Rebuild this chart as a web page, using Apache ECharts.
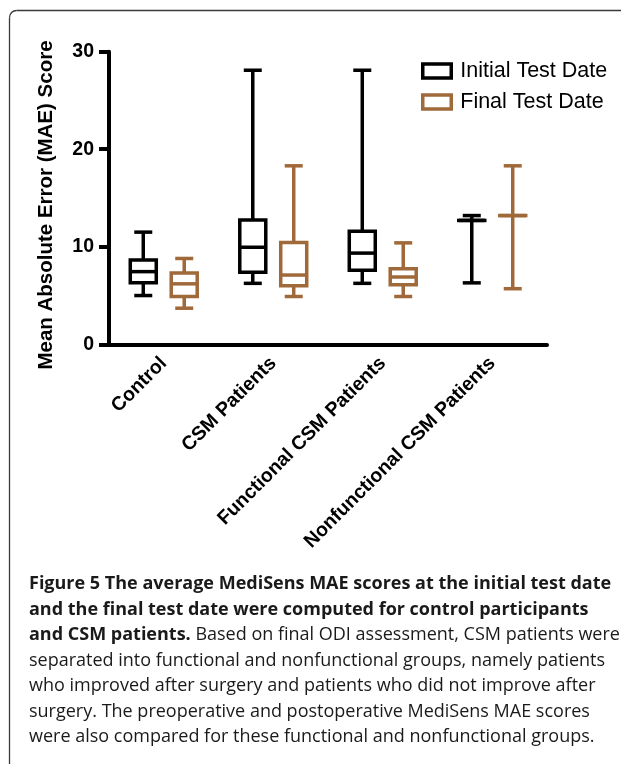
<!DOCTYPE html>
<html>
<head>
<meta charset="utf-8">
<script src="https://cdn.jsdelivr.net/npm/echarts@6/dist/echarts.min.js"></script>
<style>
html,body{margin:0;padding:0;background:#fff;}
#chart{width:621px;height:764px;}
</style>
</head>
<body>
<div id="chart"></div>
<script>
// ---- data ----
const categories = ['Control', 'CSM Patients', 'Functional CSM Patients', 'Nonfunctional CSM Patients'];
const seriesNames = ['Initial Test Date', 'Final Test Date'];
// [min, Q1, median, Q3, max]
const initialBoxes = [
  [5.0, 6.3, 7.45, 8.65, 11.5],
  [6.25, 7.4, 9.95, 12.75, 28.1],
  [6.25, 7.6, 9.35, 11.6, 28.1],
  [6.3, 12.7, 12.7, 12.7, 13.2]
];
const finalBoxes = [
  [3.7, 4.9, 6.2, 7.3, 8.8],
  [4.9, 6.0, 7.1, 10.45, 18.3],
  [4.9, 6.1, 6.9, 7.75, 10.4],
  [5.7, 13.2, 13.2, 13.2, 18.3]
];
const yTicks = [0, 10, 20, 30];
const captionLines = [
  '{b|Figure 5 The average MediSens MAE scores at the initial test date}',
  '{b|and the final test date were computed for control participants}',
  '{b|and CSM patients.} Based on final ODI assessment, CSM patients were',
  'separated into functional and nonfunctional groups, namely patients',
  'who improved after surgery and patients who did not improve after',
  'surgery. The preoperative and postoperative MediSens MAE scores',
  'were also compared for these functional and nonfunctional groups.'
];

const BLACK = '#000000';
const BROWN = '#A0693A';
const AXIS_FONT = '"Liberation Sans", Arial, sans-serif';
const CAP_FONT = '"Open Sans", sans-serif';

function toItems(boxes) {
  return boxes.map((b, i) => [i].concat(b));
}

function makeRender(offsetFrac, color) {
  return function (params, api) {
    const cat = api.value(0);
    const band = api.size([1, 0])[0];
    const cx = api.coord([cat, 0])[0] + offsetFrac * band;
    const y = k => api.coord([cat, api.value(k)])[1];
    const yMin = y(1), yQ1 = y(2), yMed = y(3), yQ3 = y(4), yMax = y(5);
    const hw = 13, cw = 9;
    const st = { stroke: color, lineWidth: 3.5, fill: null };
    return {
      type: 'group',
      children: [
        { type: 'line', shape: { x1: cx, y1: yQ3, x2: cx, y2: yMax }, style: st },
        { type: 'line', shape: { x1: cx, y1: yQ1, x2: cx, y2: yMin }, style: st },
        { type: 'line', shape: { x1: cx - cw, y1: yMax, x2: cx + cw, y2: yMax }, style: st },
        { type: 'line', shape: { x1: cx - cw, y1: yMin, x2: cx + cw, y2: yMin }, style: st },
        { type: 'rect', shape: { x: cx - hw, y: yQ3, width: 2 * hw, height: Math.max(yQ1 - yQ3, 0.01) }, style: { stroke: color, lineWidth: 3.5, fill: 'rgba(255,255,255,0)' } },
        { type: 'line', shape: { x1: cx - hw, y1: yMed, x2: cx + hw, y2: yMed }, style: st }
      ]
    };
  };
}

const chart = echarts.init(document.getElementById('chart'), null, { renderer: 'canvas' });

const captionGraphics = captionLines.map((t, i) => ({
  type: 'text',
  left: 29,
  top: 575 + i * 25.5,
  style: {
    text: t,
    fontFamily: CAP_FONT,
    fontSize: 18,
    fill: '#1a1a1a',
    rich: { b: { fontWeight: 'bold', fontFamily: CAP_FONT, fontSize: 18, fill: '#1a1a1a' } }
  }
}));

const frameStyle = { stroke: '#3a3a3a', lineWidth: 1.3, fill: null };

chart.setOption({
  animation: false,
  grid: { left: 109, right: 74, top: 51.7, bottom: 419.7, containLabel: false },
  legend: {
    orient: 'vertical',
    left: 416,
    top: 55,
    padding: 5,
    itemWidth: 28.5,
    itemHeight: 14,
    itemGap: 9,
    icon: 'rect',
    textStyle: { fontFamily: AXIS_FONT, fontSize: 21.5, color: '#000', padding: [0, 0, 0, 4] },
    data: [
      { name: seriesNames[0], itemStyle: { color: '#fff', borderColor: BLACK, borderWidth: 3.5 } },
      { name: seriesNames[1], itemStyle: { color: '#fff', borderColor: BROWN, borderWidth: 3.5 } }
    ]
  },
  xAxis: {
    type: 'category',
    data: categories,
    boundaryGap: true,
    axisLine: { lineStyle: { color: '#000', width: 4 } },
    axisTick: { alignWithLabel: true, length: 9, lineStyle: { color: '#000', width: 4 } },
    axisLabel: {
      interval: 0, rotate: 45, margin: 16,
      fontFamily: AXIS_FONT, fontWeight: 'bold', fontSize: 19.5, color: '#000'
    },
    splitLine: { show: false }
  },
  yAxis: {
    type: 'value',
    min: 0, max: 30, interval: 10,
    name: 'Mean Absolute Error (MAE) Score',
    nameLocation: 'middle',
    nameGap: 52,
    nameTextStyle: { fontFamily: AXIS_FONT, fontWeight: 'bold', fontSize: 20.5, color: '#000', padding: [0, 14, 0, 0] },
    axisLine: { show: true, lineStyle: { color: '#000', width: 4 } },
    axisTick: { show: true, length: 10, lineStyle: { color: '#000', width: 4 } },
    axisLabel: {
      margin: 15, fontFamily: AXIS_FONT, fontWeight: 'bold', fontSize: 19.5, color: '#000',
      formatter: v => (yTicks.indexOf(v) >= 0 ? String(v) : '')
    },
    splitLine: { show: false }
  },
  series: [
    {
      name: seriesNames[0], type: 'custom', data: toItems(initialBoxes),
      itemStyle: { color: BLACK },
      encode: { x: 0, y: [1, 2, 3, 4, 5] },
      renderItem: makeRender(-0.187, BLACK)
    },
    {
      name: seriesNames[1], type: 'custom', data: toItems(finalBoxes),
      itemStyle: { color: BROWN },
      encode: { x: 0, y: [1, 2, 3, 4, 5] },
      renderItem: makeRender(0.187, BROWN)
    }
  ],
  graphic: [
    { type: 'line', silent: true, shape: { x1: 9.5, y1: 764, x2: 9.5, y2: 17.5 }, style: frameStyle },
    { type: 'line', silent: true, shape: { x1: 16.5, y1: 10.5, x2: 621, y2: 10.5 }, style: frameStyle },
    { type: 'arc', silent: true, shape: { cx: 16.5, cy: 17.5, r: 7, startAngle: Math.PI, endAngle: Math.PI * 1.5, clockwise: true }, style: frameStyle }
  ].concat(captionGraphics)
});
</script>
</body>
</html>
